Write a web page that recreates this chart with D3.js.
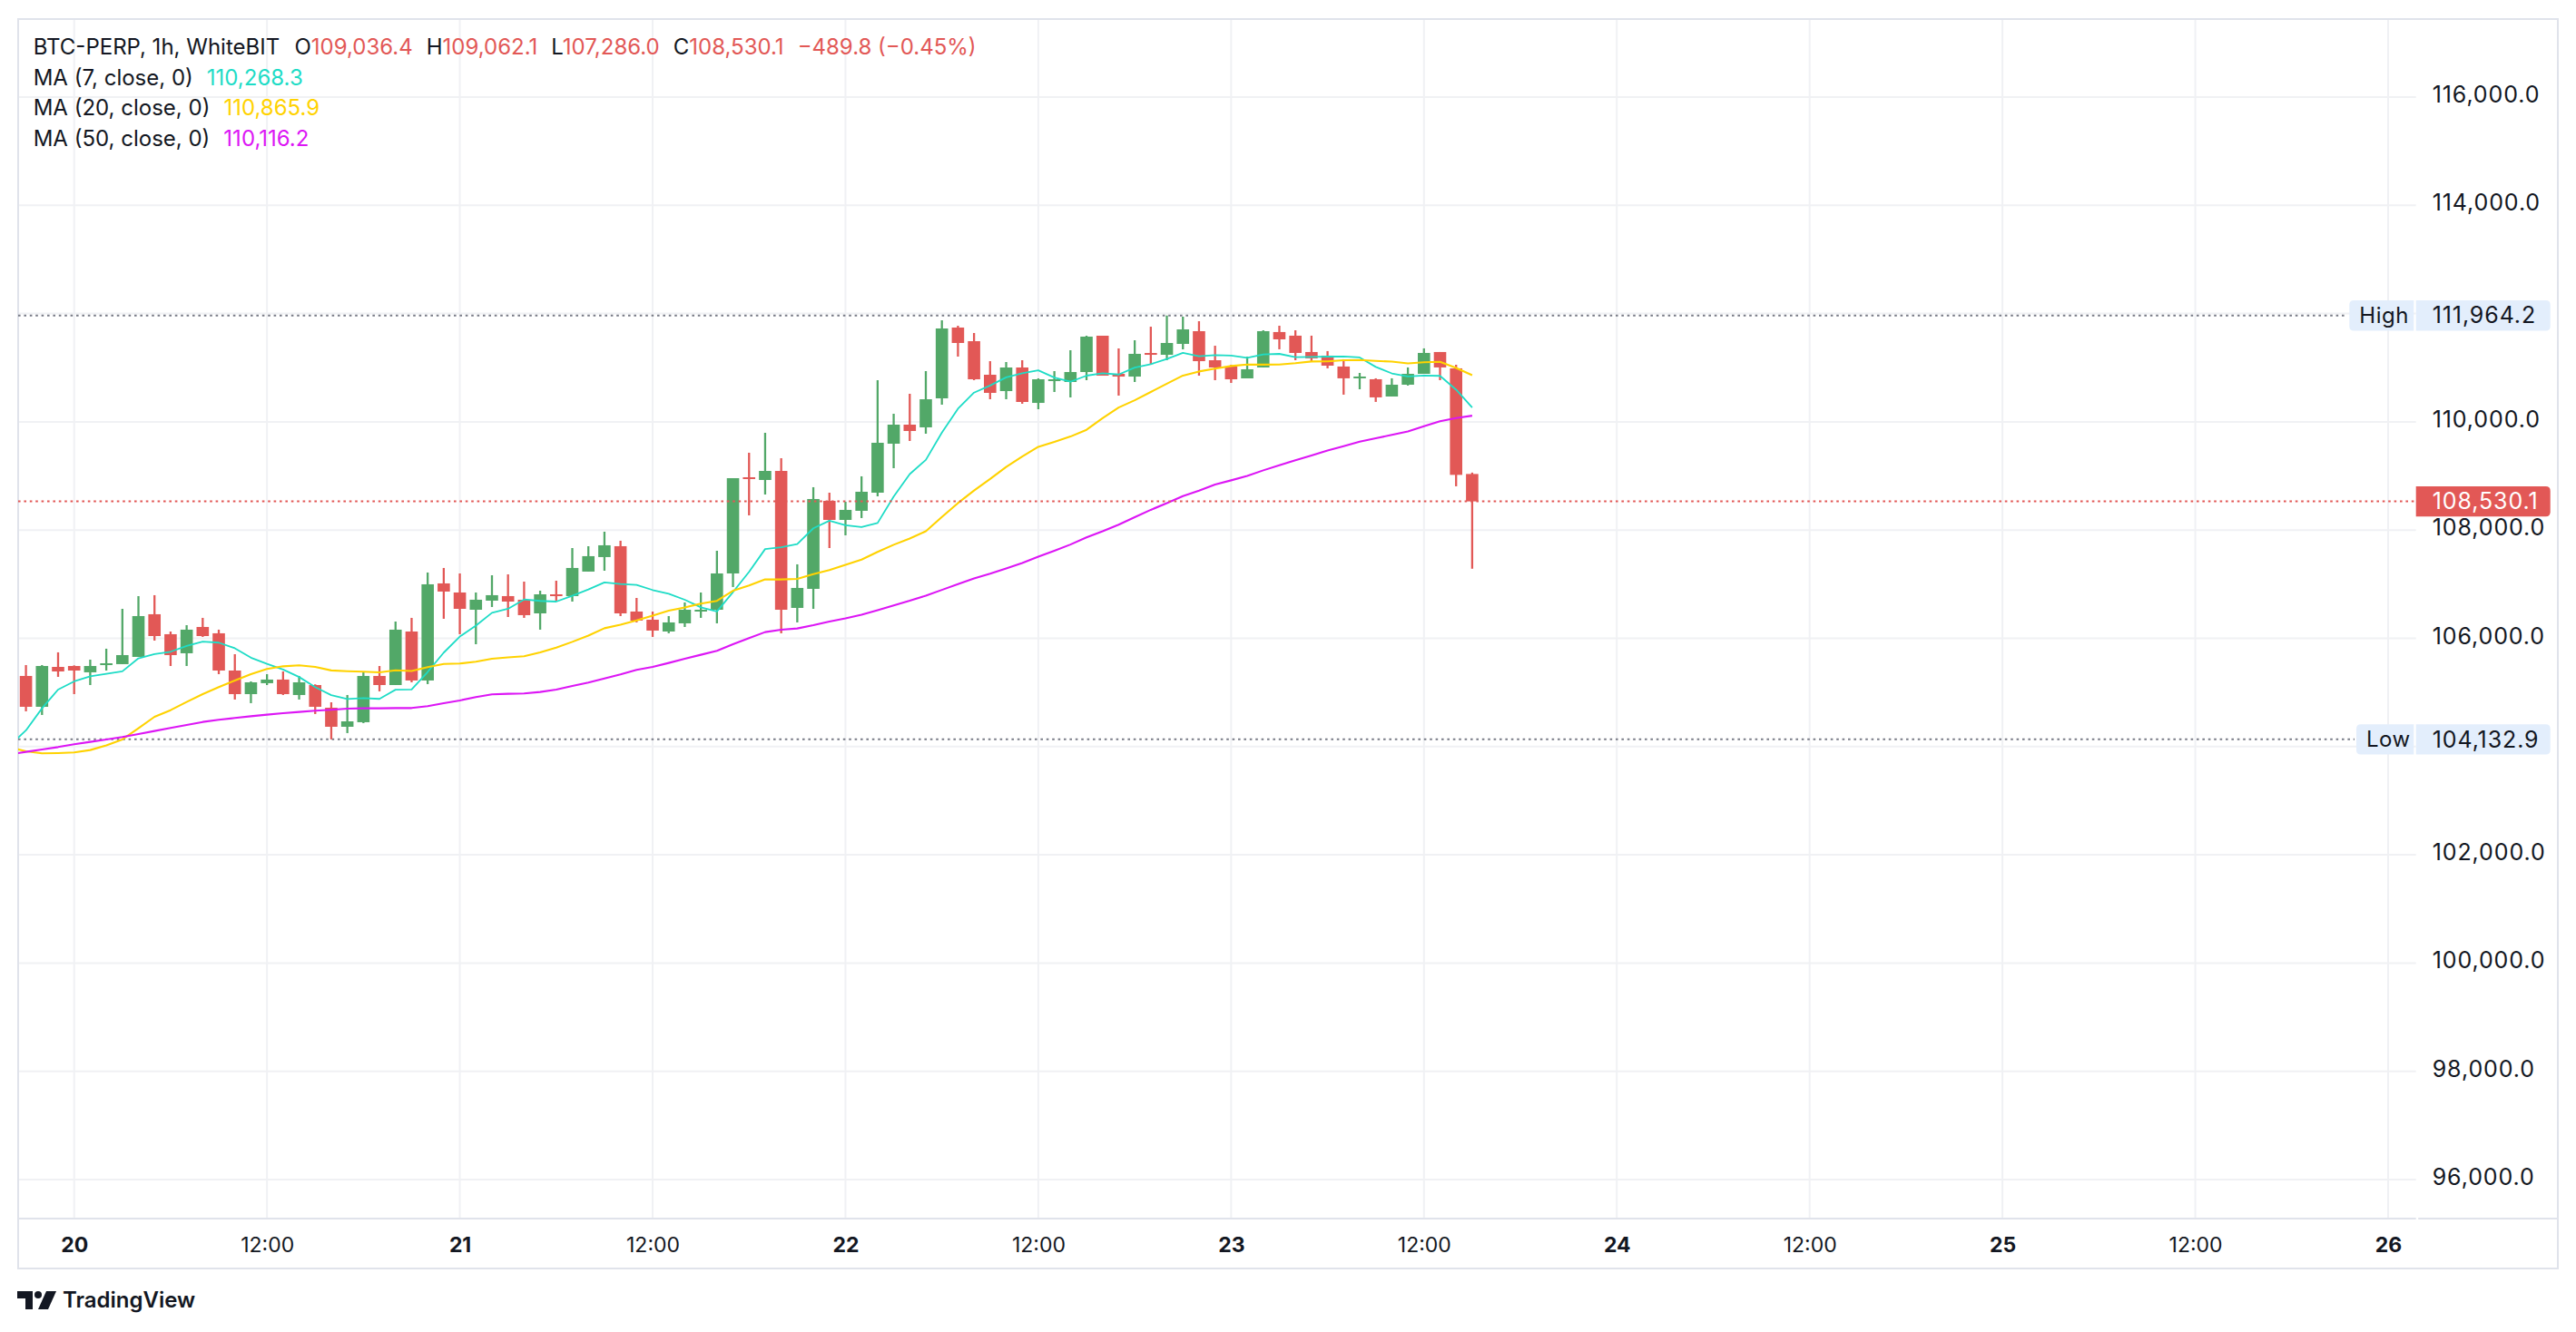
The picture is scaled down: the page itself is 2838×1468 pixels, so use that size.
<!DOCTYPE html>
<html>
<head>
<meta charset="utf-8">
<script src="https://cdn.jsdelivr.net/npm/d3@7"></script>
<style>
  html, body { margin: 0; padding: 0; background: #fff; }
  svg { display: block; font-family: Inter, "Noto Sans", sans-serif; }
</style>
</head>
<body>
<div id="chart"></div>
<script>
// hourly bars, first one is 19 May 21:00
const startTime = Date.UTC(2025, 4, 19, 21);

const opens = [
  105305, 104735, 105472, 105489, 105372, 105506, 105523, 105657, 106445, 106076,
  105724, 106210, 106093, 105405, 104969, 105171, 105238, 104953, 105137, 104718,
  104366, 104450, 105305, 105137, 106126, 105221, 107015, 106847, 106528, 106696,
  106780, 106713, 106461, 106813, 106780, 107233, 107501, 107702, 106495, 106344,
  106126, 106277, 106495, 106528, 107199, 108976, 108926, 109093, 106562, 106914,
  108540, 108188, 108356, 108691, 109596, 109948, 109898, 110434, 111742, 111490,
  110870, 110568, 111004, 110350, 110753, 110736, 110920, 111591, 110887, 110836,
  111272, 111239, 111440, 111675, 111138, 111021, 110803, 111005, 111659, 111592,
  111290, 111223, 111022, 110804, 110787, 110468, 110686, 110887, 111290, 110988,
  109036.4
];
const highs = [
  105506, 105506, 105741, 105500, 105606, 105808, 106545, 106780, 106797, 106126,
  106243, 106378, 106160, 105707, 105204, 105338, 105388, 105305, 105150, 104818,
  104953, 105372, 105489, 106310, 106378, 107216, 107300, 107199, 106847, 107165,
  107182, 107048, 106880, 107065, 107668, 107702, 107970, 107803, 106746, 106495,
  106411, 106663, 106847, 107618, 108959, 109429, 109797, 109328, 107367, 108792,
  108691, 108523, 108993, 110769, 110149, 110518, 110937, 111876, 111775, 111641,
  111121, 111105, 111138, 110803, 110937, 111323, 111591, 111591, 111356, 111507,
  111758, 111964.2, 111943, 111859, 111406, 111054, 111205, 111692, 111776, 111692,
  111592, 111307, 111156, 110904, 110804, 110804, 111005, 111357, 111290, 111055,
  109062.1
];
const lows = [
  104651, 104584, 105288, 104969, 105137, 105405, 105523, 105657, 105958, 105489,
  105489, 106026, 105338, 104869, 104802, 105137, 104953, 104869, 104601, 104132.9,
  104249, 104433, 105020, 105137, 105187, 105154, 106361, 106076, 105891, 106579,
  106394, 106378, 106160, 106696, 106679, 107233, 107249, 106411, 106294, 106026,
  106093, 106210, 106378, 106277, 106948, 108272, 108657, 106093, 106294, 106545,
  107668, 107903, 108222, 108624, 109143, 109646, 109780, 110317, 111205, 110769,
  110417, 110417, 110334, 110233, 110551, 110451, 110769, 110853, 110484, 110736,
  111054, 111138, 111339, 110853, 110769, 110719, 110803, 111005, 111340, 111139,
  111122, 110988, 110502, 110602, 110368, 110468, 110670, 110887, 110770, 108809,
  107286.0
];
const closes = [
  104735, 105489, 105388, 105405, 105489, 105539, 105690, 106411, 106042, 105690,
  106160, 106042, 105405, 104969, 105187, 105238, 104969, 105187, 104735, 104366,
  104466, 105305, 105137, 106160, 105221, 106998, 106864, 106545, 106713, 106797,
  106679, 106428, 106813, 106780, 107300, 107518, 107719, 106461, 106327, 106143,
  106294, 106528, 106528, 107199, 108959, 108943, 109093, 106528, 106931, 108574,
  108188, 108373, 108708, 109613, 109948, 109831, 110417, 111725, 111457, 110786,
  110535, 111004, 110367, 110786, 110786, 110920, 111574, 110853, 110836, 111256,
  111239, 111457, 111708, 111121, 111004, 110786, 110971, 111675, 111524, 111273,
  111172, 111038, 110804, 110837, 110452, 110686, 110887, 111273, 111005, 109019.9,
  108530.1
];

// MA values read off the chart where the window reaches before the visible bars
// (first entry is the bar just left of the view)
const ma7Head = [104019, 104299, 104707, 105053, 105204, 105299, 105344];
const ma20Head = [
  103986, 103913, 103874, 103880, 103891, 103936, 104020, 104131, 104338, 104550,
  104673, 104824, 104969, 105098, 105221, 105338, 105433, 105483, 105500, 105472
];
const ma50Head = [
  103857, 103902, 103947, 103991, 104042, 104087, 104131, 104176, 104232, 104288,
  104344, 104399, 104455, 104494, 104528, 104561, 104589, 104617, 104640, 104662,
  104679, 104701, 104707, 104707, 104712, 104712, 104746, 104802, 104852, 104914,
  104964, 104975, 104981, 105009, 105053, 105120, 105182, 105260, 105333, 105416,
  105472, 105545, 105623, 105696, 105769, 105891, 106003, 106115, 106160, 106182
];
const maLengths = [7, 20, 50];
const maLegend = [110268.3, 110865.9, 110116.2];
const maColors = ["#1edcc6", "#ffd200", "#dc16f5"];

const priceTicks = d3.range(96000, 116001, 2000);
const highValue = 111964.2;
const lowValue = 104132.9;

const W = 2838, H = 1468;
const plot = { left: 20, right: 2661.7, top: 21, bottom: 1343 };
const upColor = "#52a868";
const downColor = "#e25856";
const textColor = "#131722";
const gridColor = "#f0f1f4";
const borderColor = "#e0e3eb";
const hour = 3600e3;

const svg = d3.select("#chart").append("svg")
  .attr("width", W)
  .attr("height", H);

const x = d3.scaleUtc()
  .domain([new Date(Date.UTC(2025, 4, 20)), new Date(Date.UTC(2025, 4, 26))])
  .range([81.7, 2631]);
const y = d3.scaleLinear().domain([96000, 116000]).range([1300, 107]);

const timeAt = (i) => new Date(startTime + i * hour);
const bars = closes.map((c, i) => ({ t: timeAt(i), o: opens[i], h: highs[i], l: lows[i], c }));
const last = bars[bars.length - 1];

// grid
const timeTicks = d3.utcHour.every(12).range(
  new Date(Date.UTC(2025, 4, 20)), new Date(Date.UTC(2025, 4, 26, 1)));

svg.append("g")
  .selectAll("line")
  .data(timeTicks)
  .join("line")
  .attr("x1", (d) => x(d)).attr("x2", (d) => x(d))
  .attr("y1", plot.top).attr("y2", plot.bottom)
  .attr("stroke", gridColor).attr("stroke-width", 2);

svg.append("g")
  .selectAll("line")
  .data(priceTicks)
  .join("line")
  .attr("x1", plot.left).attr("x2", plot.right)
  .attr("y1", (d) => y(d)).attr("y2", (d) => y(d))
  .attr("stroke", gridColor).attr("stroke-width", 2);

// frame
svg.append("rect")
  .attr("x", 20).attr("y", 21)
  .attr("width", 2798).attr("height", 1377)
  .attr("fill", "none").attr("stroke", borderColor).attr("stroke-width", 2);
svg.append("line")
  .attr("x1", 20).attr("x2", plot.right).attr("y1", plot.bottom).attr("y2", plot.bottom)
  .attr("stroke", borderColor).attr("stroke-width", 2);
svg.append("line")
  .attr("x1", plot.right + 2.5).attr("x2", 2818).attr("y1", plot.bottom).attr("y2", plot.bottom)
  .attr("stroke", borderColor).attr("stroke-width", 2);

svg.append("clipPath").attr("id", "plot-clip")
  .append("rect")
  .attr("x", plot.left).attr("y", plot.top)
  .attr("width", plot.right - plot.left).attr("height", plot.bottom - plot.top);

const g = svg.append("g").attr("clip-path", "url(#plot-clip)");

// high / low / last price lines
const dotted = (val, color, x2) =>
  g.append("line")
    .attr("x1", plot.left).attr("x2", x2)
    .attr("y1", y(val)).attr("y2", y(val))
    .attr("stroke", color).attr("stroke-width", 2)
    .attr("stroke-dasharray", "2.6 3.8");
dotted(highValue, "#787b86", 2586);
dotted(lowValue, "#787b86", 2594);

// moving averages
function movingAverage(n, head) {
  const out = [{ t: timeAt(-1), v: head[0] }];
  closes.forEach((c, i) => {
    const v = i >= n - 1 ? d3.mean(closes.slice(i - n + 1, i + 1)) : head[i + 1];
    out.push({ t: timeAt(i), v });
  });
  return out;
}
const maSeries = [
  movingAverage(7, ma7Head),
  movingAverage(20, ma20Head),
  movingAverage(50, ma50Head)
];
const line = d3.line().x((d) => x(d.t)).y((d) => y(d.v));

// candles
const bodyW = 13.6;
const candle = g.append("g")
  .selectAll("g")
  .data(bars)
  .join("g")
  .attr("fill", (d) => (d.c >= d.o ? upColor : downColor))
  .attr("stroke", (d) => (d.c >= d.o ? upColor : downColor));
candle.append("line")
  .attr("x1", (d) => x(d.t)).attr("x2", (d) => x(d.t))
  .attr("y1", (d) => y(d.h)).attr("y2", (d) => y(d.l))
  .attr("stroke-width", 2.3);
candle.append("rect")
  .attr("stroke", "none")
  .attr("x", (d) => x(d.t) - bodyW / 2)
  .attr("width", bodyW)
  .attr("y", (d) => y(Math.max(d.o, d.c)))
  .attr("height", (d) => Math.max(2, Math.abs(y(d.o) - y(d.c))));

g.selectAll("path.ma")
  .data(maSeries)
  .join("path")
  .attr("class", "ma")
  .attr("fill", "none")
  .attr("stroke", (d, i) => maColors[i])
  .attr("stroke-width", (d, i) => (i === 0 ? 1.8 : 2.1))
  .attr("stroke-linejoin", "round")
  .attr("d", line);

dotted(last.c, downColor, plot.right);

// price axis, labels hidden where a tag sits on top of them
const tagged = [highValue, lowValue, last.c];
const shownTicks = priceTicks.filter((p) => tagged.every((v) => Math.abs(y(p) - y(v)) > 30));
const yAxis = svg.append("g")
  .attr("transform", `translate(${plot.right},-2.5)`)
  .call(d3.axisRight(y).tickValues(shownTicks).tickSize(0).tickPadding(18)
    .tickFormat(d3.format(",.1f")));
yAxis.select(".domain").remove();
yAxis.selectAll("text")
  .attr("font-family", "Inter, sans-serif")
  .attr("font-size", 25)
  .attr("letter-spacing", 0.9)
  .attr("fill", textColor);

// time axis
const xAxis = svg.append("g")
  .attr("transform", `translate(0,${plot.bottom})`)
  .call(d3.axisBottom(x).tickValues(timeTicks).tickSize(0).tickPadding(20.5)
    .tickFormat((d) => (d.getUTCHours() === 0 ? d3.utcFormat("%-d")(d) : "12:00")));
xAxis.select(".domain").remove();
xAxis.selectAll("text")
  .attr("font-family", "Inter, sans-serif")
  .attr("font-size", 23)
  .attr("font-weight", (d) => (d.getUTCHours() === 0 ? 700 : 400))
  .attr("fill", textColor);

// value tags on the price axis
function tag(val, fill, textFill, label, labelX) {
  const yc = y(val);
  const h = 33.4, x0 = plot.right, x1 = 2809.7, r = 5;
  const t = svg.append("g");
  if (label) {
    t.append("path")
      .attr("d", `M${labelX + r},${yc - h / 2} H${plot.right - 2.4} V${yc + h / 2} H${labelX + r}
        Q${labelX},${yc + h / 2} ${labelX},${yc + h / 2 - r} V${yc - h / 2 + r}
        Q${labelX},${yc - h / 2} ${labelX + r},${yc - h / 2} Z`)
      .attr("fill", fill);
    t.append("text")
      .attr("x", labelX + 11).attr("y", yc).attr("dy", "0.35em")
      .attr("font-size", 24).attr("letter-spacing", 0.5).attr("fill", textColor)
      .text(label);
  }
  t.append("path")
    .attr("d", `M${x0},${yc - h / 2} H${x1 - r} Q${x1},${yc - h / 2} ${x1},${yc - h / 2 + r}
      V${yc + h / 2 - r} Q${x1},${yc + h / 2} ${x1 - r},${yc + h / 2} H${x0} Z`)
    .attr("fill", fill);
  t.append("text")
    .attr("x", plot.right + 18).attr("y", yc).attr("dy", "0.35em")
    .attr("font-size", 25).attr("letter-spacing", 0.9).attr("fill", textFill)
    .text(d3.format(",.1f")(val));
}
tag(highValue, "#e3eefc", textColor, "High", 2588.3);
tag(lowValue, "#e3eefc", textColor, "Low", 2596);
tag(last.c, downColor, "#ffffff", null, 0);

// legend
const fmt = d3.format(",.1f");
const prevClose = closes[closes.length - 2];
const change = last.c - prevClose;
const lastColor = last.c >= last.o ? upColor : downColor;
const legend = svg.append("g").attr("font-size", 24).attr("fill", textColor);
const l1 = legend.append("text").attr("x", 36.7).attr("y", 59.5);
l1.append("tspan").text("BTC-PERP, 1h, WhiteBIT");
[["O", last.o], ["H", last.h], ["L", last.l], ["C", last.c]].forEach(([k, v], i) => {
  l1.append("tspan").attr("dx", i === 0 ? 17 : 15).text(k);
  l1.append("tspan").attr("fill", lastColor).text(fmt(v));
});
l1.append("tspan").attr("dx", 15).attr("fill", lastColor)
  .text(`${d3.format(".1f")(change)} (${d3.format(".2f")(change / prevClose * 100)}%)`);

maLengths.forEach((n, i) => {
  const t = legend.append("text").attr("x", 36.7).attr("y", 93.5 + i * 33.9);
  t.append("tspan").text(`MA (${n}, close, 0)`);
  t.append("tspan").attr("dx", 15).attr("fill", maColors[i]).text(fmt(maLegend[i]));
});

// TradingView mark
const logo = svg.append("g").attr("transform", "translate(19,1423)").attr("fill", textColor);
logo.append("path").attr("d", "M0,0 H17 V20 H9 V8 H0 Z");
logo.append("circle").attr("cx", 23).attr("cy", 4).attr("r", 4);
logo.append("path").attr("d", "M32,0 H43 L34,20 H23 Z");
svg.append("text")
  .attr("x", 69).attr("y", 1441)
  .attr("font-size", 24).attr("font-weight", 600)
  .attr("fill", textColor)
  .text("TradingView");
</script>
</body>
</html>
